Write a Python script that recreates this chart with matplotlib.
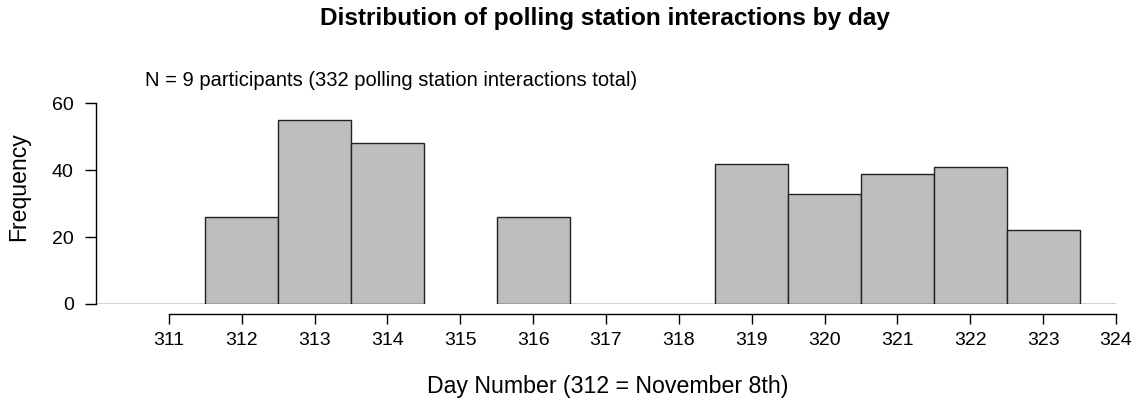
"""Histogram of polling station interactions by day"""
import matplotlib.pyplot as plt

plt.rcParams['font.family'] = ['Liberation Sans', 'DejaVu Sans']

# day 315 has no bin drawn at all; zero bins elsewhere show as flat lines
days   = [310, 311, 312, 313, 314, 316, 317, 318, 319, 320, 321, 322, 323, 324]
counts = [0,   0,   26,  55,  48,  26,  0,   0,   42,  33,  39,  41,  22,  0]
xticks = list(range(311, 325))
yticks = [0, 20, 40, 60]

W, H = 1140, 404
fig = plt.figure(figsize=(W / 100, H / 100), dpi=100)
ax = fig.add_axes([96 / W, (H - 304) / H, (1116 - 96) / W, (304 - 103.3) / H])

ax.bar(days, counts, width=1.0, color='#bebebe', edgecolor='#222222', linewidth=1.0)
ax.set_xlim(310, 324)
ax.set_ylim(0, 60)

for s in ['top', 'right']:
    ax.spines[s].set_visible(False)
ax.spines['bottom'].set_position(('outward', 7))
ax.spines['bottom'].set_bounds(311, 324)
ax.spines['left'].set_bounds(0, 60)
for s in ['bottom', 'left']:
    ax.spines[s].set_linewidth(1.0)

ax.set_xticks(xticks)
ax.set_yticks(yticks)
ax.tick_params(axis='x', length=7.2, width=1.0, labelsize=14, pad=6)
ax.tick_params(axis='y', length=8, width=1.0, labelsize=14, pad=8)

fig.text(605 / W, 1 - 18 / H, 'Distribution of polling station interactions by day',
         ha='center', va='center', fontsize=17.6, fontweight='bold')
fig.text(145 / W, 1 - 80 / H, 'N = 9 participants (332 polling station interactions total)',
         ha='left', va='center', fontsize=14.5)
fig.text(608 / W, 1 - 386 / H, 'Day Number (312 = November 8th)',
         ha='center', va='center', fontsize=16.7)
fig.text(19 / W, 1 - 187 / H, 'Frequency', ha='center', va='center',
         rotation=90, fontsize=16.6)

plt.savefig('out.png', dpi=100)
plt.close()
